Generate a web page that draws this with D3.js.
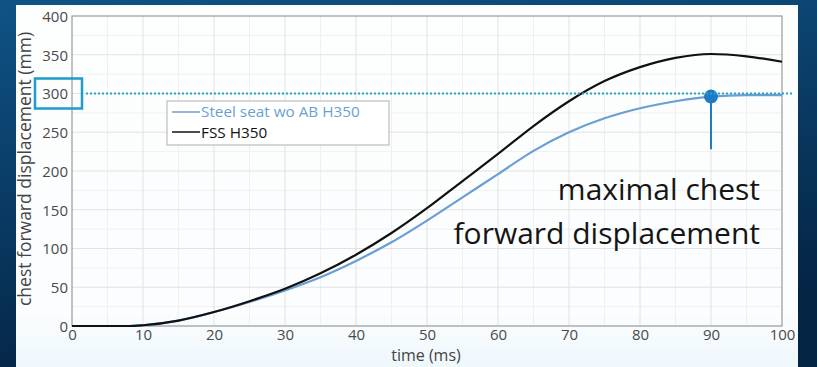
<!DOCTYPE html>
<html>
<head>
<meta charset="utf-8">
<script src="https://cdn.jsdelivr.net/npm/d3@7"></script>
<style>
  html, body { margin: 0; padding: 0; }
  body { width: 817px; height: 367px; overflow: hidden; }
  text { font-family: "Open Sans", "Noto Sans", sans-serif; }
</style>
</head>
<body>
<figure id="chart" style="margin:0"></figure>
<script>
// data
var timeMs = [0, 5, 8, 10, 15, 20, 25, 30, 35, 40, 45, 50, 55, 60, 65, 70, 75, 80, 85, 90, 95, 100];
var fssH350 = [0, 0, 0, 1, 7, 18, 32, 48, 68, 92, 120, 152, 187, 222, 258, 290, 316, 334, 346, 351, 348, 341];
var steelSeat = [0, 0, 0, 1, 7, 18, 31, 46, 63, 84, 108, 136, 166, 196, 226, 250, 268, 281, 290, 296, 298, 298];
var xTicks = [0, 10, 20, 30, 40, 50, 60, 70, 80, 90, 100];
var yTicks = [0, 50, 100, 150, 200, 250, 300, 350, 400];
var limitValue = 300;
var peak = {t: 90, v: 296, stemTo: 228};

var W = 817, H = 367;
var margin = {top: 16, right: 35, bottom: 41, left: 72};
var width = W - margin.left - margin.right;
var height = H - margin.top - margin.bottom;

var svg = d3.select('figure#chart').append('svg')
  .attr('width', W)
  .attr('height', H);

// blue slide background + white panel
var defs = svg.append('defs');
var bg = defs.append('linearGradient').attr('id', 'bg')
  .attr('x1', 0).attr('y1', 0).attr('x2', 0.3).attr('y2', 1);
bg.append('stop').attr('offset', '0%').attr('stop-color', '#0f5386');
bg.append('stop').attr('offset', '100%').attr('stop-color', '#042444');
var pg = defs.append('linearGradient').attr('id', 'panel')
  .attr('x1', 0).attr('y1', 0).attr('x2', 0).attr('y2', 1);
pg.append('stop').attr('offset', '0%').attr('stop-color', '#fdfefe');
pg.append('stop').attr('offset', '85%').attr('stop-color', '#fbfdfe');
pg.append('stop').attr('offset', '100%').attr('stop-color', '#eef7fb');

svg.append('rect').attr('width', W).attr('height', H).attr('fill', 'url(#bg)');
svg.append('rect')
  .attr('x', 16).attr('y', 5)
  .attr('width', 782).attr('height', 362)
  .attr('fill', 'url(#panel)');

var chart = svg.append('g')
  .attr('transform', 'translate(' + margin.left + ',' + margin.top + ')');

var x = d3.scaleLinear().domain([0, 100]).range([0, width]);
var y = d3.scaleLinear().domain([0, 400]).range([height, 0]);

// grid
var grid = chart.append('g').classed('grid', true);
grid.selectAll('.vminor')
  .data(d3.range(5, 100, 10))
  .enter().append('line')
    .attr('x1', function(d) { return x(d); })
    .attr('x2', function(d) { return x(d); })
    .attr('y1', 0).attr('y2', height)
    .style('stroke', '#f0f0f0');
grid.selectAll('.hminor')
  .data(d3.range(25, 400, 50))
  .enter().append('line')
    .attr('y1', function(d) { return y(d); })
    .attr('y2', function(d) { return y(d); })
    .attr('x1', 0).attr('x2', width)
    .style('stroke', '#f0f0f0');
grid.selectAll('.vmajor')
  .data(xTicks.slice(1, -1))
  .enter().append('line')
    .attr('x1', function(d) { return x(d); })
    .attr('x2', function(d) { return x(d); })
    .attr('y1', 0).attr('y2', height)
    .style('stroke', '#e2e2e2');
grid.selectAll('.hmajor')
  .data(yTicks.slice(1, -1))
  .enter().append('line')
    .attr('y1', function(d) { return y(d); })
    .attr('y2', function(d) { return y(d); })
    .attr('x1', 0).attr('x2', width)
    .style('stroke', '#e2e2e2');

chart.append('rect')
  .attr('width', width).attr('height', height)
  .style('fill', 'none')
  .style('stroke', '#9a9a9a')
  .style('stroke-width', 1.2);

// axes (labels only, the frame draws the lines)
var xAxis = d3.axisBottom(x).tickValues(xTicks).tickSize(0).tickPadding(3);
var yAxis = d3.axisLeft(y).tickValues(yTicks).tickSize(0).tickPadding(4);

chart.append('g')
  .attr('transform', 'translate(0,' + height + ')')
  .call(xAxis)
  .call(function(g) { g.select('.domain').remove(); })
  .selectAll('text')
    .style('font-size', '15px')
    .style('font-family', '"Open Sans", sans-serif')
    .style('fill', '#4a4a4a');

chart.append('g')
  .call(yAxis)
  .call(function(g) { g.select('.domain').remove(); })
  .selectAll('text')
    .attr('dy', '0.35em')
    .style('font-size', '15px')
    .style('font-family', '"Open Sans", sans-serif')
    .style('fill', '#4a4a4a');

chart.append('text')
  .attr('x', width / 2 - 1)
  .attr('y', height + 35)
  .attr('text-anchor', 'middle')
  .style('font-size', '16px')
  .style('fill', '#444')
  .text('time (ms)');

chart.append('text')
  .attr('transform', 'translate(' + (-41) + ',' + (153) + ') rotate(-90)')
  .attr('text-anchor', 'middle')
  .style('font-size', '17.5px')
  .style('fill', '#444')
  .text('chest forward displacement (mm)');

// 300 mm limit
svg.append('line')
  .attr('x1', 86).attr('x2', 792)
  .attr('y1', margin.top + y(limitValue))
  .attr('y2', margin.top + y(limitValue))
  .style('stroke', '#27a3c8')
  .style('stroke-width', 2.2)
  .style('stroke-dasharray', '2,2');
svg.append('rect')
  .attr('x', 35).attr('y', margin.top + y(limitValue) - 15)
  .attr('width', 47).attr('height', 30)
  .style('fill', 'none')
  .style('stroke', '#1b9ccc')
  .style('stroke-width', 2.5);

// curves
var line = d3.line()
  .x(function(d) { return x(d[0]); })
  .y(function(d) { return y(d[1]); })
  .curve(d3.curveMonotoneX);

chart.append('path')
  .datum(d3.zip(timeMs, steelSeat))
  .attr('d', line)
  .style('fill', 'none')
  .style('stroke', '#6a9fd4')
  .style('stroke-width', 2.2);

chart.append('path')
  .datum(d3.zip(timeMs, fssH350))
  .attr('d', line)
  .style('fill', 'none')
  .style('stroke', '#111')
  .style('stroke-width', 2.2);

// peak marker
chart.append('line')
  .attr('x1', x(peak.t)).attr('x2', x(peak.t))
  .attr('y1', y(peak.v)).attr('y2', y(peak.stemTo))
  .style('stroke', '#1f7cc4')
  .style('stroke-width', 2);
chart.append('circle')
  .attr('cx', x(peak.t)).attr('cy', y(peak.v))
  .attr('r', 7)
  .style('fill', '#1f7cc4');

// annotation
var note = chart.append('text')
  .attr('text-anchor', 'end')
  .style('font-size', '30px')
  .style('fill', '#151515');
note.append('tspan').attr('x', 688).attr('y', 184).text('maximal chest');
note.append('tspan').attr('x', 688).attr('y', 228).text('forward displacement');

// legend
var legend = svg.append('g').attr('transform', 'translate(167,101)');
legend.append('rect')
  .attr('width', 222).attr('height', 44)
  .style('fill', '#fff')
  .style('stroke', '#bdbdbd')
  .style('stroke-width', 1.2);
var items = [
  {name: 'Steel seat wo AB H350', color: '#6a9fd4'},
  {name: 'FSS H350', color: '#111'}
];
items.forEach(function(it, i) {
  legend.append('line')
    .attr('x1', 5).attr('x2', 33)
    .attr('y1', 11 + i * 20).attr('y2', 11 + i * 20)
    .style('stroke', it.color)
    .style('stroke-width', 1.5);
  legend.append('text')
    .attr('x', 34).attr('y', 16 + i * 21)
    .style('font-size', '15.3px')
    .style('fill', it.color)
    .text(it.name);
});
</script>
</body>
</html>
